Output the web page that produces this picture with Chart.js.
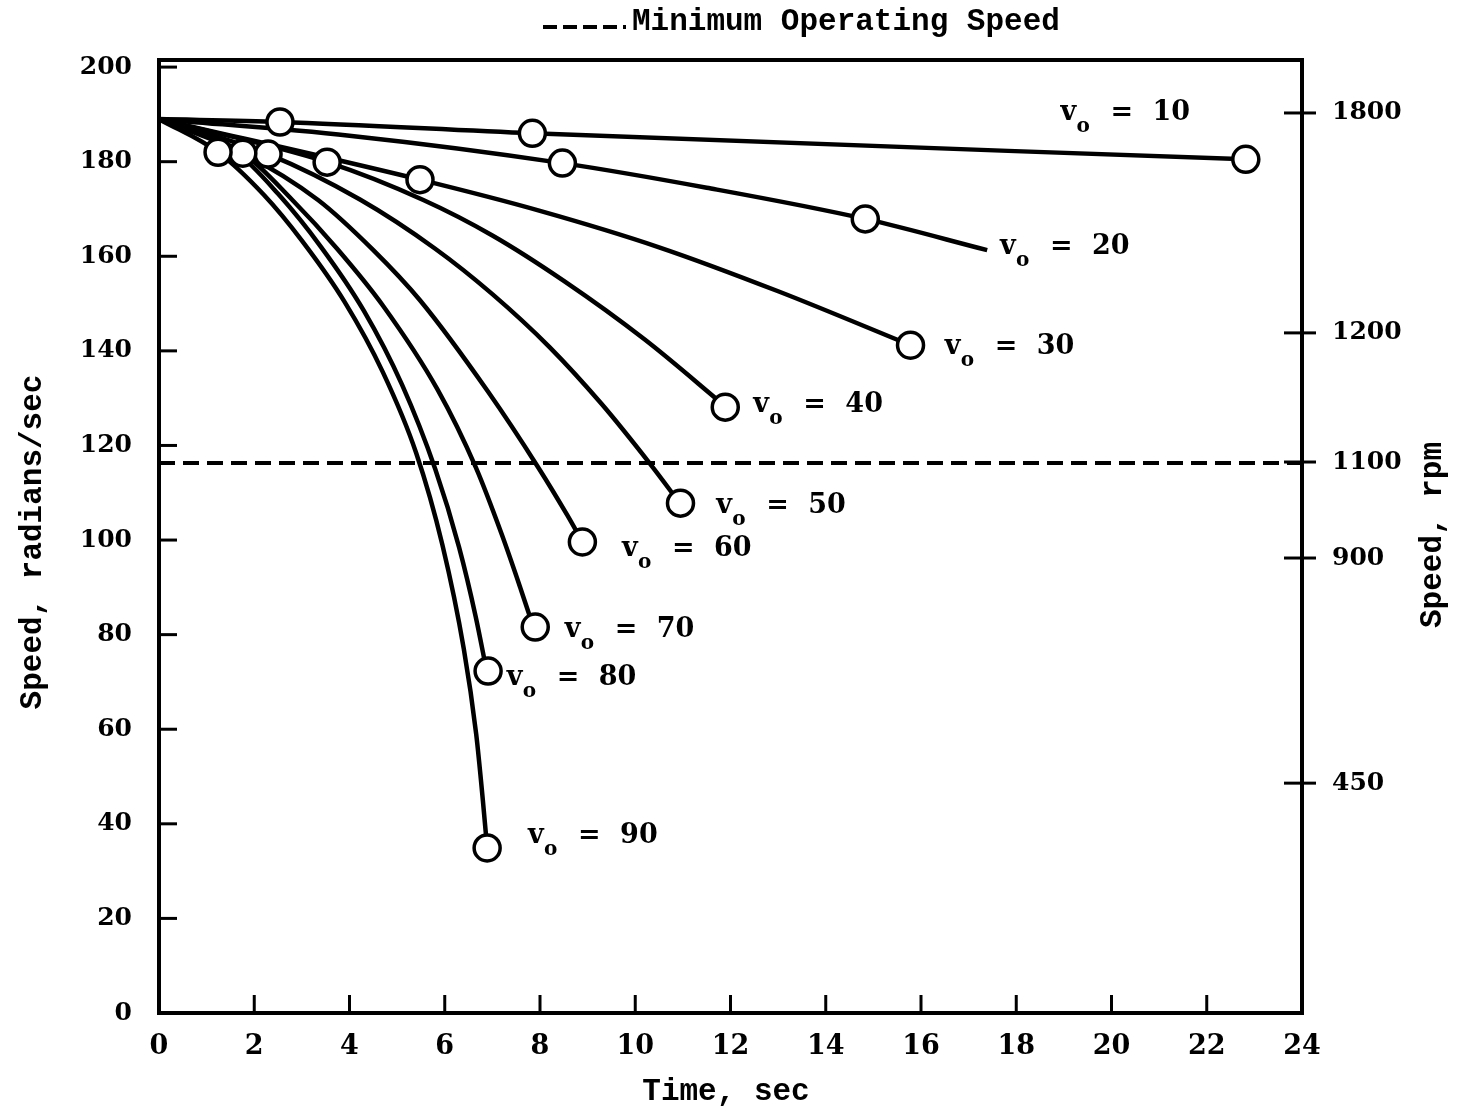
<!DOCTYPE html>
<html>
<head>
<meta charset="utf-8">
<title>Speed vs Time</title>
<script src="https://cdn.jsdelivr.net/npm/chart.js@4.4.1/dist/chart.umd.min.js"></script>
<style>
  html, body { margin: 0; padding: 0; background: #fff; }
  #wrap { width: 1461px; height: 1109px; position: relative; }
</style>
</head>
<body>
<div id="wrap"><canvas id="speed-chart"></canvas></div>
<script>
// --- Data (time in sec, speed in radians/sec) ---
const t10 = [0, 2.54, 7.84, 22.82];
const w10 = [189, 188.4, 186.0, 180.5];
const t20 = [0, 4, 8.47, 11.5, 14.83, 17.39];
const w20 = [189, 185.5, 179.7, 174.5, 167.9, 161.3];
const t30 = [0, 5.48, 8.0, 10.5, 13.0, 15.78];
const w30 = [189, 176.2, 169.6, 161.9, 152.6, 141.2];
const t40 = [0, 3.53, 5.55, 7.0, 8.5, 10.2, 11.89];
const w40 = [189, 179.9, 171.9, 164.4, 154.8, 142.4, 128.3];
const t50 = [0, 2.29, 4.22, 5.8, 7.0, 8.2, 9.3, 10.32, 10.95];
const w50 = [189, 181.6, 172, 161.6, 152, 140.8, 128.7, 116, 107.6];
const t60 = [0, 1.76, 3.34, 4.5, 5.48, 6.9, 7.96, 8.57, 8.89];
const w60 = [189, 181.8, 171.9, 161.3, 150.7, 131.5, 115.4, 105.3, 99.6];
const t70 = [0, 1.76, 2.8, 3.74, 4.7, 5.85, 6.65, 7.2, 7.6, 7.86];
const w70 = [189, 181.8, 171.9, 161.6, 149.6, 131.8, 115.4, 101.1, 89.5, 81.6];
const t80 = [0, 1.6, 2.5, 3.4, 4.3, 5.1, 5.8, 6.3, 6.65, 6.88];
const w80 = [189, 182.2, 173.2, 162, 148.5, 132.9, 115, 98.5, 83.8, 72.3];
const t90 = [0, 1.24, 2.2, 3.0, 3.9, 4.7, 5.4, 5.95, 6.4, 6.66, 6.8, 6.89];
const w90 = [189, 182, 173, 163.3, 150.3, 135.5, 118.4, 99, 77, 59, 45, 34.9];

// open circles drawn on the curves
const markT = [2.54, 7.84, 22.82, 8.47, 14.83, 5.48, 15.78, 3.53, 11.89, 2.29, 10.95, 1.76, 8.89, 7.90, 6.91, 1.24, 6.89];
const markW = [188.4, 186.0, 180.5, 179.7, 167.9, 176.2, 141.2, 179.9, 128.1, 181.6, 107.8, 181.8, 99.6, 81.6, 72.3, 182, 34.9];

// minimum operating speed (dashed)
const minSpeed = 116.3;

// curve labels (v_o = ...) and where they sit
const curveLabels = ['10', '20', '30', '40', '50', '60', '70', '80', '90'];
const labelT = [18.93, 17.66, 16.5, 12.48, 11.7, 9.72, 8.52, 7.3, 7.75];
const labelW = [190.3, 162.0, 140.8, 128.5, 107.2, 98.1, 81.0, 70.8, 37.4];

// axis ticks
const timeTicks = [0, 2, 4, 6, 8, 10, 12, 14, 16, 18, 20, 22, 24];
const radTicks = [0, 20, 40, 60, 80, 100, 120, 140, 160, 180, 200];
const rpmTicks = [1800, 1200, 1100, 900, 450];
const rpmAt = [190.3, 143.8, 116.5, 96.2, 48.6];

const curves = [[t10, w10], [t20, w20], [t30, w30], [t40, w40], [t50, w50],
                [t60, w60], [t70, w70], [t80, w80], [t90, w90]];

function toPoints(xs, ys) {
    return xs.map((x, i) => ({ x: x, y: ys[i] }));
}

const monoFont = 'bold 31px "Liberation Mono", "DejaVu Sans Mono", monospace';

// draws frame, inward tick marks, titles and the v_o labels
const decorPlugin = {
    id: 'decor',
    afterDraw(chart) {
        const ctx = chart.ctx;
        const a = chart.chartArea;
        const xs = chart.scales.x, ys = chart.scales.y;
        ctx.save();
        ctx.strokeStyle = '#000';
        ctx.fillStyle = '#000';
        ctx.lineWidth = 4;
        ctx.strokeRect(a.left, a.top, a.right - a.left, a.bottom - a.top);

        ctx.lineWidth = 3;
        radTicks.forEach(v => {
            const y = ys.getPixelForValue(v);
            ctx.beginPath(); ctx.moveTo(a.left, y); ctx.lineTo(a.left + 18, y); ctx.stroke();
        });
        timeTicks.forEach(v => {
            const x = xs.getPixelForValue(v);
            ctx.beginPath(); ctx.moveTo(x, a.bottom); ctx.lineTo(x, a.bottom - 18); ctx.stroke();
        });
        rpmAt.forEach(v => {
            const y = ys.getPixelForValue(v);
            ctx.beginPath(); ctx.moveTo(a.right - 18, y); ctx.lineTo(a.right + 14, y); ctx.stroke();
        });

        // legend line at the top
        ctx.lineWidth = 4;
        ctx.setLineDash([14, 6]);
        ctx.beginPath(); ctx.moveTo(543, 27); ctx.lineTo(626, 27); ctx.stroke();
        ctx.setLineDash([]);
        ctx.font = monoFont;
        ctx.textBaseline = 'middle';
        ctx.textAlign = 'left';
        ctx.fillText('Minimum Operating Speed', 632, 22);

        // axis titles
        ctx.textAlign = 'center';
        ctx.fillText('Time, sec', 726, 1092);
        ctx.save();
        ctx.translate(33, 542); ctx.rotate(-Math.PI / 2);
        ctx.fillText('Speed, radians/sec', 0, 0);
        ctx.restore();
        ctx.save();
        ctx.translate(1433, 535); ctx.rotate(-Math.PI / 2);
        ctx.fillText('Speed, rpm', 0, 0);
        ctx.restore();

        // v_o = ... labels
        ctx.textAlign = 'left';
        curveLabels.forEach((txt, i) => {
            const x = xs.getPixelForValue(labelT[i]);
            const y = ys.getPixelForValue(labelW[i]);
            ctx.font = 'bold 27px "DejaVu Serif", serif';
            ctx.fillText('v', x, y);
            ctx.font = 'bold 20px "DejaVu Serif", serif';
            ctx.fillText('o', x + 16, y + 14);
            ctx.font = 'bold 27px "DejaVu Serif", serif';
            ctx.fillText('=', x + 50, y);
            ctx.fillText(txt, x + 92, y);
        });
        ctx.restore();
    }
};

const datasets = [{
    label: 'markers',
    type: 'scatter',
    data: toPoints(markT, markW),
    order: -1,
    showLine: false,
    pointRadius: 13,
    pointBackgroundColor: '#fff',
    pointBorderColor: '#000',
    pointBorderWidth: 3.5
}, {
    label: 'Minimum Operating Speed',
    data: [{ x: 0, y: minSpeed }, { x: 24, y: minSpeed }],
    borderColor: '#000',
    borderWidth: 4,
    borderDash: [16, 8],
    pointRadius: 0
}];
curves.forEach((c, i) => {
    datasets.push({
        label: 'v_o = ' + curveLabels[i],
        data: toPoints(c[0], c[1]),
        borderColor: '#000',
        borderWidth: 4.5,
        pointRadius: 0,
        cubicInterpolationMode: 'monotone'
    });
});

const ctx = document.getElementById('speed-chart').getContext('2d');
new Chart(ctx, {
    type: 'line',
    data: { datasets: datasets },
    plugins: [decorPlugin],
    options: {
        responsive: true,
        maintainAspectRatio: false,
        animation: false,
        layout: { padding: { top: 60, left: 0, right: 0, bottom: 0 } },
        plugins: { legend: { display: false }, tooltip: { enabled: false } },
        scales: {
            x: {
                type: 'linear', min: 0, max: 24,
                grid: { display: false },
                border: { display: false },
                afterBuildTicks: s => { s.ticks = timeTicks.map(v => ({ value: v })); },
                afterFit: s => { s.height = 96; },
                ticks: { font: { family: '"DejaVu Serif", serif', size: 27, weight: 'bold' }, color: '#000', padding: 10, maxRotation: 0 }
            },
            y: {
                type: 'linear', position: 'left', min: 0, max: 201.5,
                grid: { display: false },
                border: { display: false },
                afterBuildTicks: s => { s.ticks = radTicks.map(v => ({ value: v })); },
                afterFit: s => { s.width = 159; },
                ticks: { font: { family: '"DejaVu Serif", serif', size: 25, weight: 'bold' }, color: '#000', padding: 19 }
            },
            y2: {
                type: 'linear', position: 'right', min: 0, max: 201.5,
                grid: { display: false },
                border: { display: false },
                afterBuildTicks: s => { s.ticks = rpmAt.map(v => ({ value: v })); },
                afterFit: s => { s.width = 159; },
                ticks: {
                    font: { family: '"DejaVu Serif", serif', size: 25, weight: 'bold' }, color: '#000', padding: 22,
                    callback: (v, i) => rpmTicks[i]
                }
            }
        }
    }
});
</script>
</body>
</html>
